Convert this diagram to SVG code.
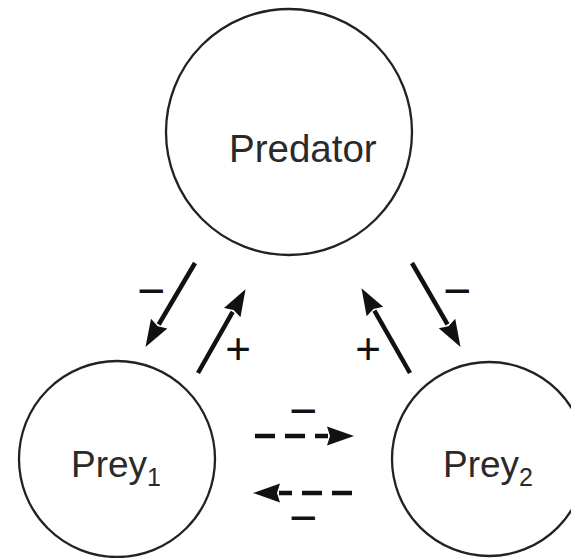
<svg xmlns="http://www.w3.org/2000/svg" width="571" height="558" viewBox="0 0 571 558">
<style>
.node{fill:#fff;stroke:#222;stroke-width:2.3}
.lbl{font-family:"Liberation Sans",Arial,sans-serif;fill:#2a2a2a}
.sign{font-family:"Liberation Sans",Arial,sans-serif;fill:#111;text-anchor:middle}
.arr{stroke:#111;stroke-width:4.5;fill:none;marker-end:url(#head)}
.dash{stroke-dasharray:20 10}
</style>
<defs>
<marker id="head" markerUnits="userSpaceOnUse" markerWidth="30" markerHeight="24" refX="1" refY="10" orient="auto" viewBox="0 0 30 20">
<path d="M0,0.5 L27,10 L0,19.5 L3,10 Z" fill="#111"/>
</marker>
</defs>
<rect width="571" height="558" fill="#fff"/>
<g id="predator">
<circle class="node" cx="289" cy="132" r="123"/>
<text class="lbl" x="229" y="162" font-size="38.5">Predator</text>
</g>
<g id="prey1">
<circle class="node" cx="117" cy="459" r="98"/>
<text class="lbl" x="71" y="477" font-size="37">Prey<tspan font-size="25" dy="9">1</tspan></text>
</g>
<g id="prey2">
<circle class="node" cx="489" cy="459" r="97"/>
<text class="lbl" x="443" y="477" font-size="37">Prey<tspan font-size="25" dy="9">2</tspan></text>
</g>
<g id="connectors">
<line class="arr" x1="195" y1="263" x2="158.7" y2="324.5"/>
<line class="arr" x1="198" y1="373" x2="232.7" y2="311.8"/>
<line class="arr" x1="410" y1="373" x2="374.4" y2="310.7"/>
<line class="arr" x1="412" y1="263" x2="447.5" y2="324.4"/>
<line class="arr dash" x1="255" y1="436" x2="328" y2="436"/>
<line class="arr dash" x1="352" y1="493" x2="279" y2="493"/>
<text class="sign" x="151" y="306.6" font-size="48">−</text>
<text class="sign" x="238" y="363.5" font-size="44">+</text>
<text class="sign" x="368" y="364" font-size="44">+</text>
<text class="sign" x="457" y="306.6" font-size="48">−</text>
<text class="sign" x="303" y="426.6" font-size="48">−</text>
<text class="sign" x="303" y="533.6" font-size="48">−</text>
</g>
</svg>
